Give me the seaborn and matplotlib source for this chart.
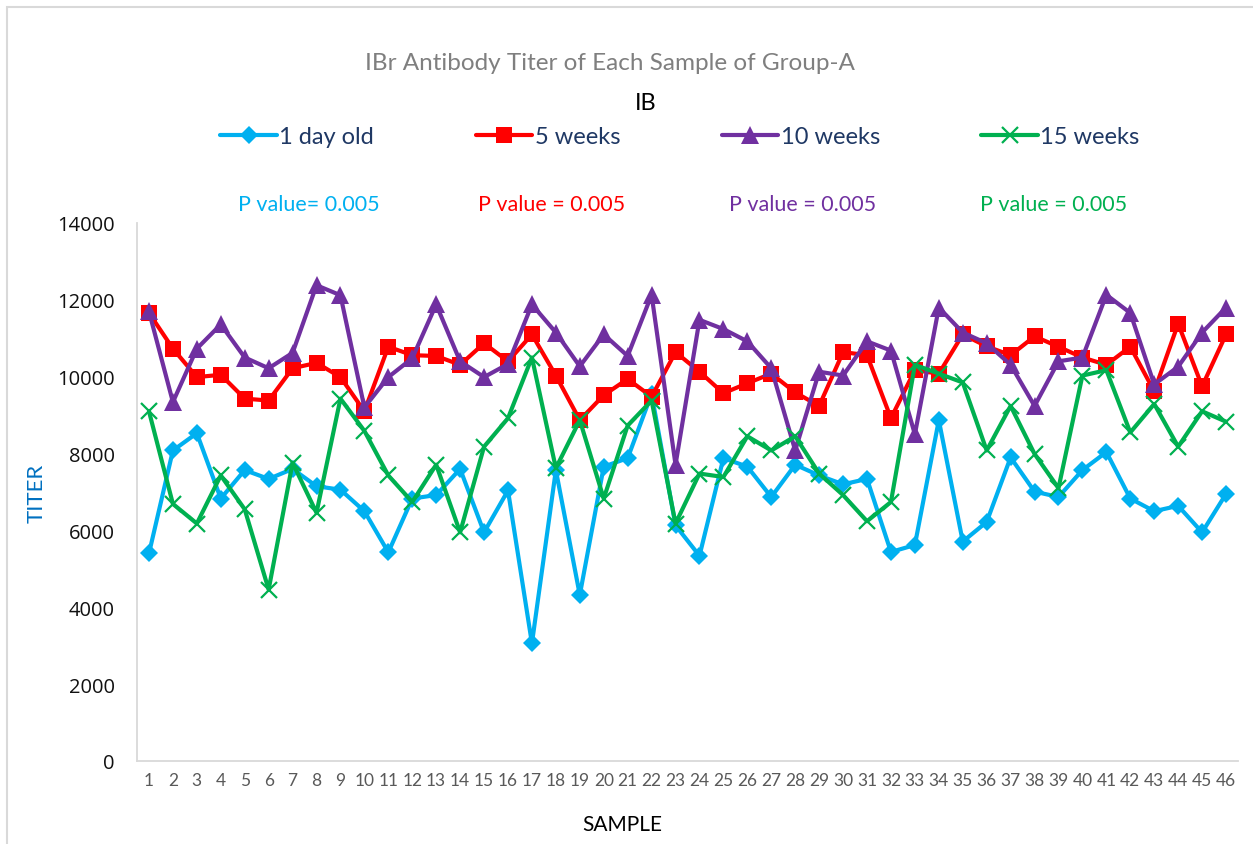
import pandas as pd
import seaborn as sns
import matplotlib.pyplot as plt
from matplotlib.patches import Rectangle

samples = list(range(1, 47))
day1 = [5400, 8080, 8530, 6830, 7570, 7340, 7600, 7150, 7060, 6500,
        5430, 6830, 6920, 7600, 5950, 7040, 3060, 7570, 4320, 7660,
        7880, 9550, 6130, 5340, 7880, 7660, 6870, 7710, 7430, 7200,
        7340, 5440, 5620, 8870, 5710, 6220, 7900, 7010, 6870, 7570,
        8040, 6830, 6500, 6640, 5950, 6950]
wk5 = [11660, 10730, 9990, 10050, 9430, 9380, 10220, 10360, 9990, 9100,
       10780, 10560, 10540, 10310, 10870, 10400, 11100, 10030, 8870, 9520,
       9940, 9480, 10640, 10130, 9570, 9830, 10080, 9590, 9240, 10640,
       10560, 8920, 10170, 10080, 11100, 10790, 10560, 11050, 10780, 10500,
       10310, 10780, 9620, 11380, 9750, 11100]
wk10 = [11700, 9340, 10730, 11360, 10500, 10220, 10620, 12380, 12120, 9200,
        9990, 10480, 11880, 10400, 9990, 10330, 11880, 11150, 10270, 11100,
        10540, 12130, 7710, 11480, 11240, 10920, 10220, 8080, 10130, 10030,
        10920, 10680, 8500, 11800, 11150, 10870, 10310, 9240, 10400, 10500,
        12130, 11660, 9800, 10260, 11150, 11800]
wk15 = [9100, 6690, 6180, 7430, 6550, 4460, 7760, 6460, 9430, 8590,
        7430, 6740, 7710, 5950, 8180, 8920, 10500, 7620, 8870, 6830,
        8730, 9380, 6180, 7480, 7390, 8450, 8080, 8450, 7480, 6920,
        6240, 6740, 10310, 10080, 9850, 8080, 9240, 7990, 7100, 10030,
        10170, 8550, 9290, 8180, 9100, 8830]

names = ['1 day old', '5 weeks', '10 weeks', '15 weeks']
colors = ['#00B0F0', '#FF0000', '#7030A0', '#00B050']
p_texts = ['P value= 0.005', 'P value = 0.005', 'P value = 0.005', 'P value = 0.005']

df = pd.DataFrame({'SAMPLE': samples, names[0]: day1, names[1]: wk5,
                   names[2]: wk10, names[3]: wk15})
df = df.melt(id_vars='SAMPLE', var_name='group', value_name='TITER')

sns.set_theme(style='white')
plt.rcParams['font.family'] = ['Lato', 'DejaVu Sans']

W, H = 1253, 845
fig = plt.figure(figsize=(W / 100, H / 100), dpi=100)
ax = fig.add_axes([137 / W, 1 - 762 / H, (1238 - 137) / W, (762 - 224) / H])

marker_style = {
    '1 day old': dict(marker='D', markersize=9.5, markeredgewidth=0),
    '5 weeks': dict(marker='s', markersize=12, markeredgewidth=0),
    '10 weeks': dict(marker='^', markersize=12.5, markeredgewidth=0),
    '15 weeks': dict(marker='x', markersize=11.5, markeredgewidth=1.6),
}
for name, c in zip(names, colors):
    sns.lineplot(data=df[df['group'] == name], x='SAMPLE', y='TITER', color=c,
                 linewidth=3.0, markeredgecolor=c, label=name, ax=ax,
                 **marker_style[name])

ax.set_xlim(0.5, 46.5)
ax.set_ylim(0, 14000)
ax.set_xticks(samples)
ax.set_xticklabels([str(s) for s in samples], fontsize=12.5, color='#595959')
ax.set_yticks(range(0, 14001, 2000))
ax.set_yticklabels([str(v) for v in range(0, 14001, 2000)], fontsize=14.5,
                   color='#111111', family=['Open Sans', 'DejaVu Sans'])
ax.tick_params(length=0, pad=8)
ax.tick_params(axis='y', pad=16)
for s in ['top', 'right']:
    ax.spines[s].set_visible(False)
for s in ['left', 'bottom']:
    ax.spines[s].set_color('#D9D9D9')
    ax.spines[s].set_linewidth(1.3)
ax.set_xlabel('')
ax.set_ylabel('')

handles, labels = ax.get_legend_handles_labels()
ax.get_legend().remove()
leg = fig.legend(handles, labels, loc='center', bbox_to_anchor=(680 / W, 1 - 138 / H),
                 ncol=4, frameon=False, fontsize=17, handlelength=2.4,
                 handletextpad=0.1, columnspacing=4.3)
for t in leg.get_texts():
    t.set_color('#1F3864')

fig.text(610 / W, 1 - 64 / H, 'IBr Antibody Titer of Each Sample of Group-A',
         ha='center', va='center', fontsize=17.5, color='#7F7F7F')
fig.text(646 / W, 1 - 103 / H, 'IB', ha='center', va='center', fontsize=17, color='black')
for xc, txt, c in zip([309, 552, 803, 1054], p_texts, colors):
    fig.text(xc / W, 1 - 205 / H, txt, ha='center', va='center', fontsize=15.5, color=c)

fig.text(37 / W, 1 - 493 / H, 'TITER', rotation=90, ha='center', va='center',
         fontsize=16, color='#0070C0')
fig.text(622 / W, 1 - 825 / H, 'SAMPLE', ha='center', va='center', fontsize=15,
         color='black')

fig.patches.append(Rectangle((7 / W, -0.1), 1.2, 1.1 - 8 / H, fill=False,
                             edgecolor='#D9D9D9', linewidth=1.5,
                             transform=fig.transFigure, figure=fig))

fig.savefig('out.png', dpi=100)
